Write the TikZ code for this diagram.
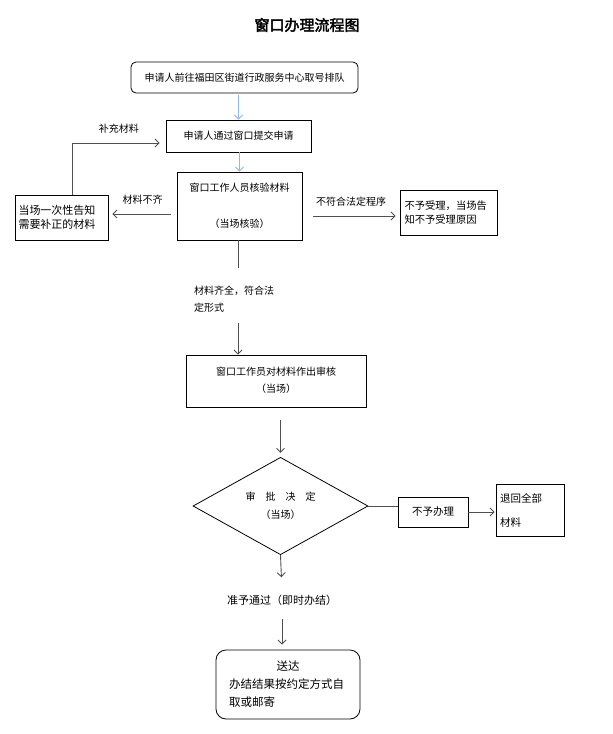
\documentclass[tikz,border=0pt]{standalone}
\usepackage{fontspec}
\setmainfont{Noto Sans CJK SC}[AutoFakeBold=2.5]
\usetikzlibrary{arrows.meta,shapes.geometric}

\definecolor{lineg}{HTML}{505050}
\definecolor{lineb}{HTML}{8DB8E6}

\begin{document}
\begin{tikzpicture}[x=1pt,y=-1pt,font=\fontsize{10}{12}\selectfont,
    arr/.style={-{Straight Barb[length=4pt,width=8pt]},draw=lineg,line width=0.9pt},
    blue arr/.style={-{Straight Barb[length=4pt,width=8pt]},draw=lineb,line width=0.9pt},
    box/.style={rectangle,draw=black,line width=0.8pt,inner sep=2pt}]

\useasboundingbox (0,0) rectangle (613,734);

\node[font=\fontsize{15}{18}\selectfont\bfseries] (title) at (307,25) {窗口办理流程图};

\node[box, rounded corners=5pt, minimum width=227pt, minimum height=31pt] (req) at (244.5,77.5) {申请人前往福田区街道行政服务中心取号排队};
\node[box, minimum width=145pt, minimum height=32pt] (submit) at (238.5,136) {申请人通过窗口提交申请};
\node[box, minimum width=125pt, minimum height=68pt, align=center] (check) at (239.5,206) {窗口工作人员核验材料\\[24pt]（当场核验）};
\node[box, minimum width=93pt, minimum height=45pt, text width=86pt, align=left, font=\fontsize{11}{14}\selectfont] (notify) at (61.5,217.5) {当场一次性告知\\需要补正的材料};
\node[box, minimum width=97pt, minimum height=45pt, text width=88pt, align=left, font=\fontsize{10.3}{14}\selectfont] (refuse) at (448.5,212.5) {不予受理，当场告\\知不予受理原因};
\node[anchor=north west, align=left, inner sep=0pt] (okl) at (194,286) {材料齐全，符合法\\[5pt]定形式};
\node[box, minimum width=180pt, minimum height=52pt, align=center, text depth=3pt] (review) at (276,381) {窗口工作员对材料作出审核\\[5pt]（当场）};
\node[diamond, draw=black, line width=0.8pt, inner sep=0pt, minimum width=175pt, minimum height=92pt, align=center] (decide) at (280.5,506) {审\hspace{10pt}批\hspace{10pt}决\hspace{10pt}定\\[6pt]（当场）};
\node[box, minimum width=70pt, minimum height=30pt, font=\fontsize{10.5}{12}\selectfont] (nodo) at (433,512) {不予办理};
\node[box, minimum width=68pt, minimum height=52pt, text width=60pt, align=left, font=\fontsize{10.5}{12}\selectfont] (giveback) at (530,510) {退回全部\\[12pt]材料};
\node[font=\fontsize{11}{13}\selectfont] (pass) at (282,600) {准予通过（即时办结）};
\node[box, rounded corners=10pt, minimum width=144pt, minimum height=69pt, text width=118pt, align=left, font=\fontsize{11.5}{18}\selectfont] (deliver) at (288,684.5) {\makebox[\linewidth]{送达}\\办结结果按约定方式自\\取或邮寄};

\coordinate (okend) at (238,268);
\coordinate (okstart) at (238,323);

% blue arrows on top
\draw[blue arr, shorten <=2pt] (req.south -| submit.north) -- (submit.north);
\draw[blue arr] (submit.south -| check.north) -- (check.north);

% side branches
\draw[arr, shorten <=6pt, shorten >=4pt] ([yshift=3.5pt]notify.east -| check.west) -- node[above=6pt, draw=none] {材料不齐} ([yshift=3.5pt]notify.east);
\draw[arr, shorten >=6pt] ([xshift=10.5pt]notify.north) |- node[pos=0.75, above=6pt] {补充材料} ([yshift=-7pt]submit.west);
\draw[arr, shorten <=11pt, shorten >=4pt] ([yshift=-3.5pt]refuse.west -| check.east) -- node[above=6pt] {不符合法定程序} ([yshift=-3.5pt]refuse.west);

% main flow
\draw[draw=lineg, line width=0.9pt] (check.south -| okend) -- (okend);
\draw[arr] (okstart) -- (okstart |- review.north);
\draw[arr, shorten <=13pt, shorten >=4pt] (review.south -| decide.north) -- (decide.north);
\draw[draw=lineg, line width=0.9pt] (decide.east) -- (decide.east -| nodo.west);
\draw[arr, shorten >=1pt] (nodo.east) -- (nodo.east -| giveback.west);
\draw[arr, shorten >=14pt] (decide.south) -- (pass.north);
\draw[arr, shorten <=10pt, shorten >=5pt] (pass.south) -- (pass.south |- deliver.north);

\end{tikzpicture}
\end{document}
